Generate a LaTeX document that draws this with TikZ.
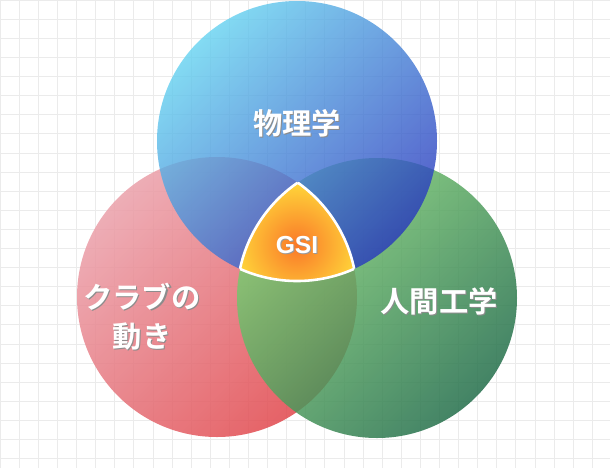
\documentclass[tikz,border=0pt]{standalone}
\usepackage{fontspec}
\newfontfamily\cjk{Noto Sans CJK JP}[BoldFont={Noto Sans CJK JP Bold}]
\setmainfont{Liberation Sans}
\definecolor{gridc}{RGB}{235,235,235}
\tikzset{
  lbl/.style={text=white,font=\cjk\bfseries\fontsize{25}{33}\selectfont,align=center},
  shd/.style={text=black!45,font=\cjk\bfseries\fontsize{25}{33}\selectfont,align=center},
  rim/.style={draw=white,line width=2.2pt}
}
\begin{document}
\begin{tikzpicture}[x=0.03cm,y=-0.03cm]
\useasboundingbox (0,0) rectangle (610,468);
\fill[white] (0,0) rectangle (610,468);
\draw[gridc,line width=0.4pt,xstep=19.1,ystep=-19.1] (0,0) grid (610,468);
\coordinate (T) at (297,141);
\coordinate (L) at (217,297);
\coordinate (R) at (377,298);
\def\rr{140}
\shade[fill opacity=0.85,left color={rgb,255:red,235;green,160;blue,170},right color={rgb,255:red,225;green,70;blue,75},shading angle=45] (L) circle (\rr);
\shade[fill opacity=0.85,left color={rgb,255:red,130;green,210;blue,115},right color={rgb,255:red,35;green,110;blue,75},shading angle=45] (R) circle (\rr);
\shade[fill opacity=0.8,left color={rgb,255:red,100;green,210;blue,240},right color={rgb,255:red,40;green,55;blue,190},shading angle=45] (T) circle (\rr);
\begin{scope}
\clip (T) circle (\rr); \clip (L) circle (\rr); \clip (R) circle (\rr);
\shade[inner color={rgb,255:red,250;green,120;blue,40},outer color={rgb,255:red,255;green,225;blue,60}] (297,245) circle (70);
\end{scope}
\begin{scope}\clip (T) circle (\rr); \clip (L) circle (\rr); \draw[rim] (R) circle (\rr);\end{scope}
\begin{scope}\clip (T) circle (\rr); \clip (R) circle (\rr); \draw[rim] (L) circle (\rr);\end{scope}
\begin{scope}\clip (L) circle (\rr); \clip (R) circle (\rr); \draw[rim] (T) circle (\rr);\end{scope}
\node[shd] at (298,124) {物理学};
\node[lbl] (p) at (297,123) {物理学};
\node[shd] at (143,318) {クラブの\\動き};
\node[lbl] (c) at (142,317) {クラブの\\動き};
\node[shd] at (440,302) {人間工学};
\node[lbl] (h) at (439,301) {人間工学};
\node[text=black!40,font=\bfseries\fontsize{21}{24}\selectfont] at (298,246) {GSI};
\node[text=white,font=\bfseries\fontsize{21}{24}\selectfont] (g) at (297,245) {GSI};
\end{tikzpicture}
\end{document}
